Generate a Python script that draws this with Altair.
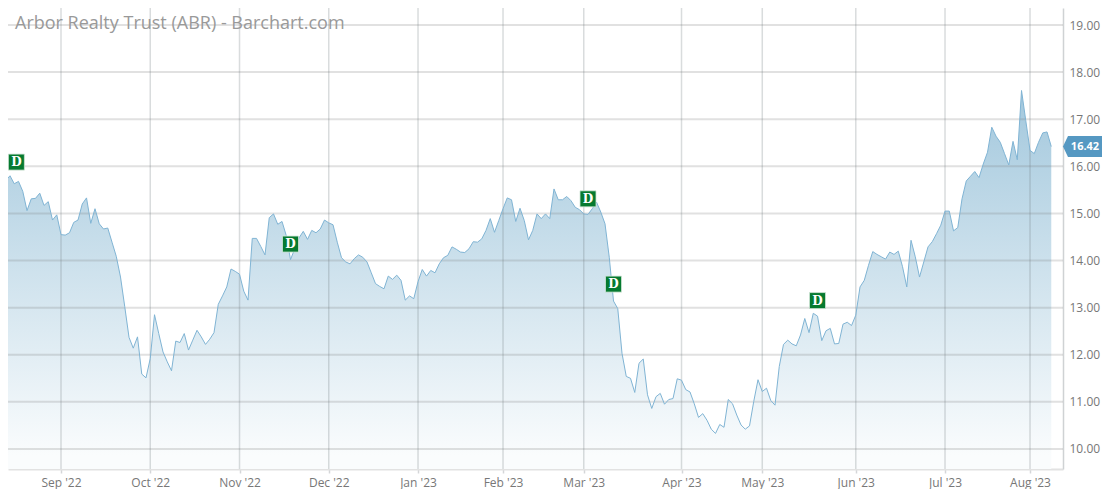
import json
import altair as alt
import pandas as pd

TITLE = "Arbor Realty Trust (ABR) - Barchart.com"
close = [
    15.77,15.70,15.80,15.63,15.68,15.47,15.06,15.31,15.32,15.43,15.17,15.25,14.86,14.97,14.55,14.54,14.59,14.81,14.86,15.20,15.33,14.79,15.10,14.78,14.67,14.69,14.39,14.09,13.65,13.02,12.37,12.14,12.38,11.59,11.51,11.92,12.85,12.45,12.06,11.85,11.66,12.29,12.26,12.45,12.10,12.31,12.52,12.38,12.22,12.33,12.47,13.07,13.25,13.44,13.82,13.77,13.71,13.35,13.16,14.47,14.47,14.30,14.12,14.91,14.99,14.77,14.83,14.53,14.02,14.25,14.48,14.62,14.45,14.64,14.59,14.67,14.86,14.80,14.76,14.39,14.06,13.97,13.93,14.04,14.12,14.07,13.97,
    13.74,13.51,13.45,13.40,13.67,13.60,13.69,13.58,13.16,13.25,13.19,13.55,13.81,13.67,13.79,13.74,13.93,14.06,14.11,14.29,14.24,14.18,14.17,14.25,14.40,14.39,14.46,14.64,14.89,14.60,14.85,15.10,15.33,15.29,14.83,15.11,14.85,14.44,14.64,14.99,14.89,14.99,14.89,15.52,15.29,15.29,15.36,15.27,15.13,15.08,14.99,14.98,15.10,15.24,15.03,14.78,14.07,13.14,12.98,12.03,11.54,11.50,11.20,11.82,11.91,11.15,10.86,11.11,
    11.18,10.95,11.05,11.07,11.49,11.46,11.26,11.21,10.96,10.67,10.75,10.61,10.42,10.33,10.52,10.46,11.05,10.96,10.72,10.51,10.42,10.49,
    11.01,11.47,11.22,11.29,11.03,10.93,11.75,12.22,12.31,12.23,12.19,12.42,12.77,12.47,12.88,12.82,12.30,12.51,12.56,12.23,12.24,12.65,12.69,12.62,12.84,13.44,13.58,13.90,14.19,14.13,14.08,14.03,14.18,14.13,14.20,13.87,13.44,14.43,14.08,13.65,13.97,14.29,14.40,14.57,14.75,15.05,15.05,14.63,14.70,15.31,15.69,15.79,15.89,15.76,16.05,16.30,16.83,16.64,16.51,16.27,16.03,16.53,16.14,17.61,16.97,16.34,16.27,16.51,16.71,16.73,16.42,
]
month_index = [14, 35, 56, 77, 98, 118, 137, 160, 179, 201, 222, 242]
month_label = ["Sep '22", "Oct '22", "Nov '22", "Dec '22", "Jan '23", "Feb '23",
               "Mar '23", "Apr '23", "May '23", "Jun '23", "Jul '23", "Aug '23"]
div_index = [3.5, 68, 138, 144, 192]
div_level = [16.09, 14.35, 15.31, 13.50, 13.15]
y_ticks = [10, 11, 12, 13, 14, 15, 16, 17, 18, 19]
last_price = [16.42]

n = len(close)
df = pd.DataFrame({"i": [247 - (n - 1 - k) for k in range(n)], "close": close})
div_df = pd.DataFrame({"i": div_index, "level": div_level, "t": ["D"] * len(div_index)})
last_df = pd.DataFrame({"level": last_price, "t": ["16.42"]})
ygrid_df = pd.DataFrame({"level": y_ticks})
xgrid_df = pd.DataFrame({"i": month_index})

FONT = "Open Sans"
x_scale = alt.Scale(domain=[1.529, 249.76], nice=False, zero=False)
y_scale = alt.Scale(domain=[9.575, 19.361], nice=False, zero=False)
label_map = json.dumps({str(a): b for a, b in zip(month_index, month_label)})

x_axis = alt.Axis(
    values=month_index, labelExpr=f"{label_map}[datum.value]", title=None, grid=False,
    domain=True, domainColor="#e2e2e2", domainWidth=2,
    ticks=True, tickColor="#d4d6d8", tickWidth=1.5, tickSize=4,
    labelFont=FONT, labelFontSize=12, labelColor="#777777", labelPadding=4,
    labelOverlap=False, labelFlush=False,
)
y_axis = alt.Axis(
    orient="right", values=y_ticks, format=".2f", title=None, grid=False,
    domain=True, domainColor="#cfd2d4", domainWidth=1.5, ticks=False,
    labelFont=FONT, labelFontSize=12, labelColor="#777777", labelPadding=6,
)

gradient = alt.Gradient(
    gradient="linear", x1=0, x2=0, y1=0, y2=1,
    stops=[alt.GradientStop(offset=0, color="#a3c8dd"),
           alt.GradientStop(offset=0.44, color="#fafcfd"),
           alt.GradientStop(offset=1, color="#fafcfd")],
)

area = alt.Chart(df).mark_area(color=gradient, clip=True).encode(
    x=alt.X("i:Q", scale=x_scale, axis=x_axis),
    y=alt.Y("close:Q", scale=y_scale, axis=y_axis),
    y2=alt.value(461),
)
ygrid = alt.Chart(ygrid_df).mark_rule(color="#787878", opacity=0.22, strokeWidth=2).encode(
    y=alt.Y("level:Q", scale=y_scale),
)
xgrid = alt.Chart(xgrid_df).mark_rule(color="#6e787d", opacity=0.26, strokeWidth=1.5).encode(
    x=alt.X("i:Q", scale=x_scale),
)
line = alt.Chart(df).mark_line(color="#80b4d4", strokeWidth=1, clip=True).encode(
    x=alt.X("i:Q", scale=x_scale), y=alt.Y("close:Q", scale=y_scale),
)
div_box = alt.Chart(div_df).mark_point(
    shape="square", size=256, filled=True, fill="#067a30", opacity=1,
    stroke="#cfe5d6", strokeWidth=0.8,
).encode(x=alt.X("i:Q", scale=x_scale), y=alt.Y("level:Q", scale=y_scale))
div_text = alt.Chart(div_df).mark_text(
    font="DejaVu Serif", fontWeight="bold", fontSize=12, color="white",
).encode(x=alt.X("i:Q", scale=x_scale), y=alt.Y("level:Q", scale=y_scale), text="t:N")

TAG = "M-1,0 L-0.744,-0.538 L1,-0.538 L1,0.538 L-0.744,0.538 Z"
tag = alt.Chart(last_df).mark_point(
    shape=TAG, size=1521, filled=True, fill="#5598c2", opacity=1, strokeWidth=0,
).encode(x=alt.value(1074.5), y=alt.Y("level:Q", scale=y_scale))
tag_text = alt.Chart(last_df).mark_text(
    font=FONT, fontWeight="bold", fontSize=11, color="white",
).encode(x=alt.value(1077), y=alt.Y("level:Q", scale=y_scale), text="t:N")

chart = alt.layer(area, ygrid, xgrid, line, div_box, div_text, tag, tag_text).properties(
    width=1055, height=461,
    title=alt.TitleParams(TITLE, anchor="start", frame="group", dx=7, dy=40,
                          font=FONT, fontSize=18, fontWeight="normal",
                          color="#999999", baseline="alphabetic", offset=0),
    autosize=alt.AutoSizeParams(type="none"),
    padding={"left": 0, "top": 0, "right": 39, "bottom": 20},
).configure_view(stroke=None)

chart.save("out.html", embed_options={"renderer": "svg", "actions": False})
